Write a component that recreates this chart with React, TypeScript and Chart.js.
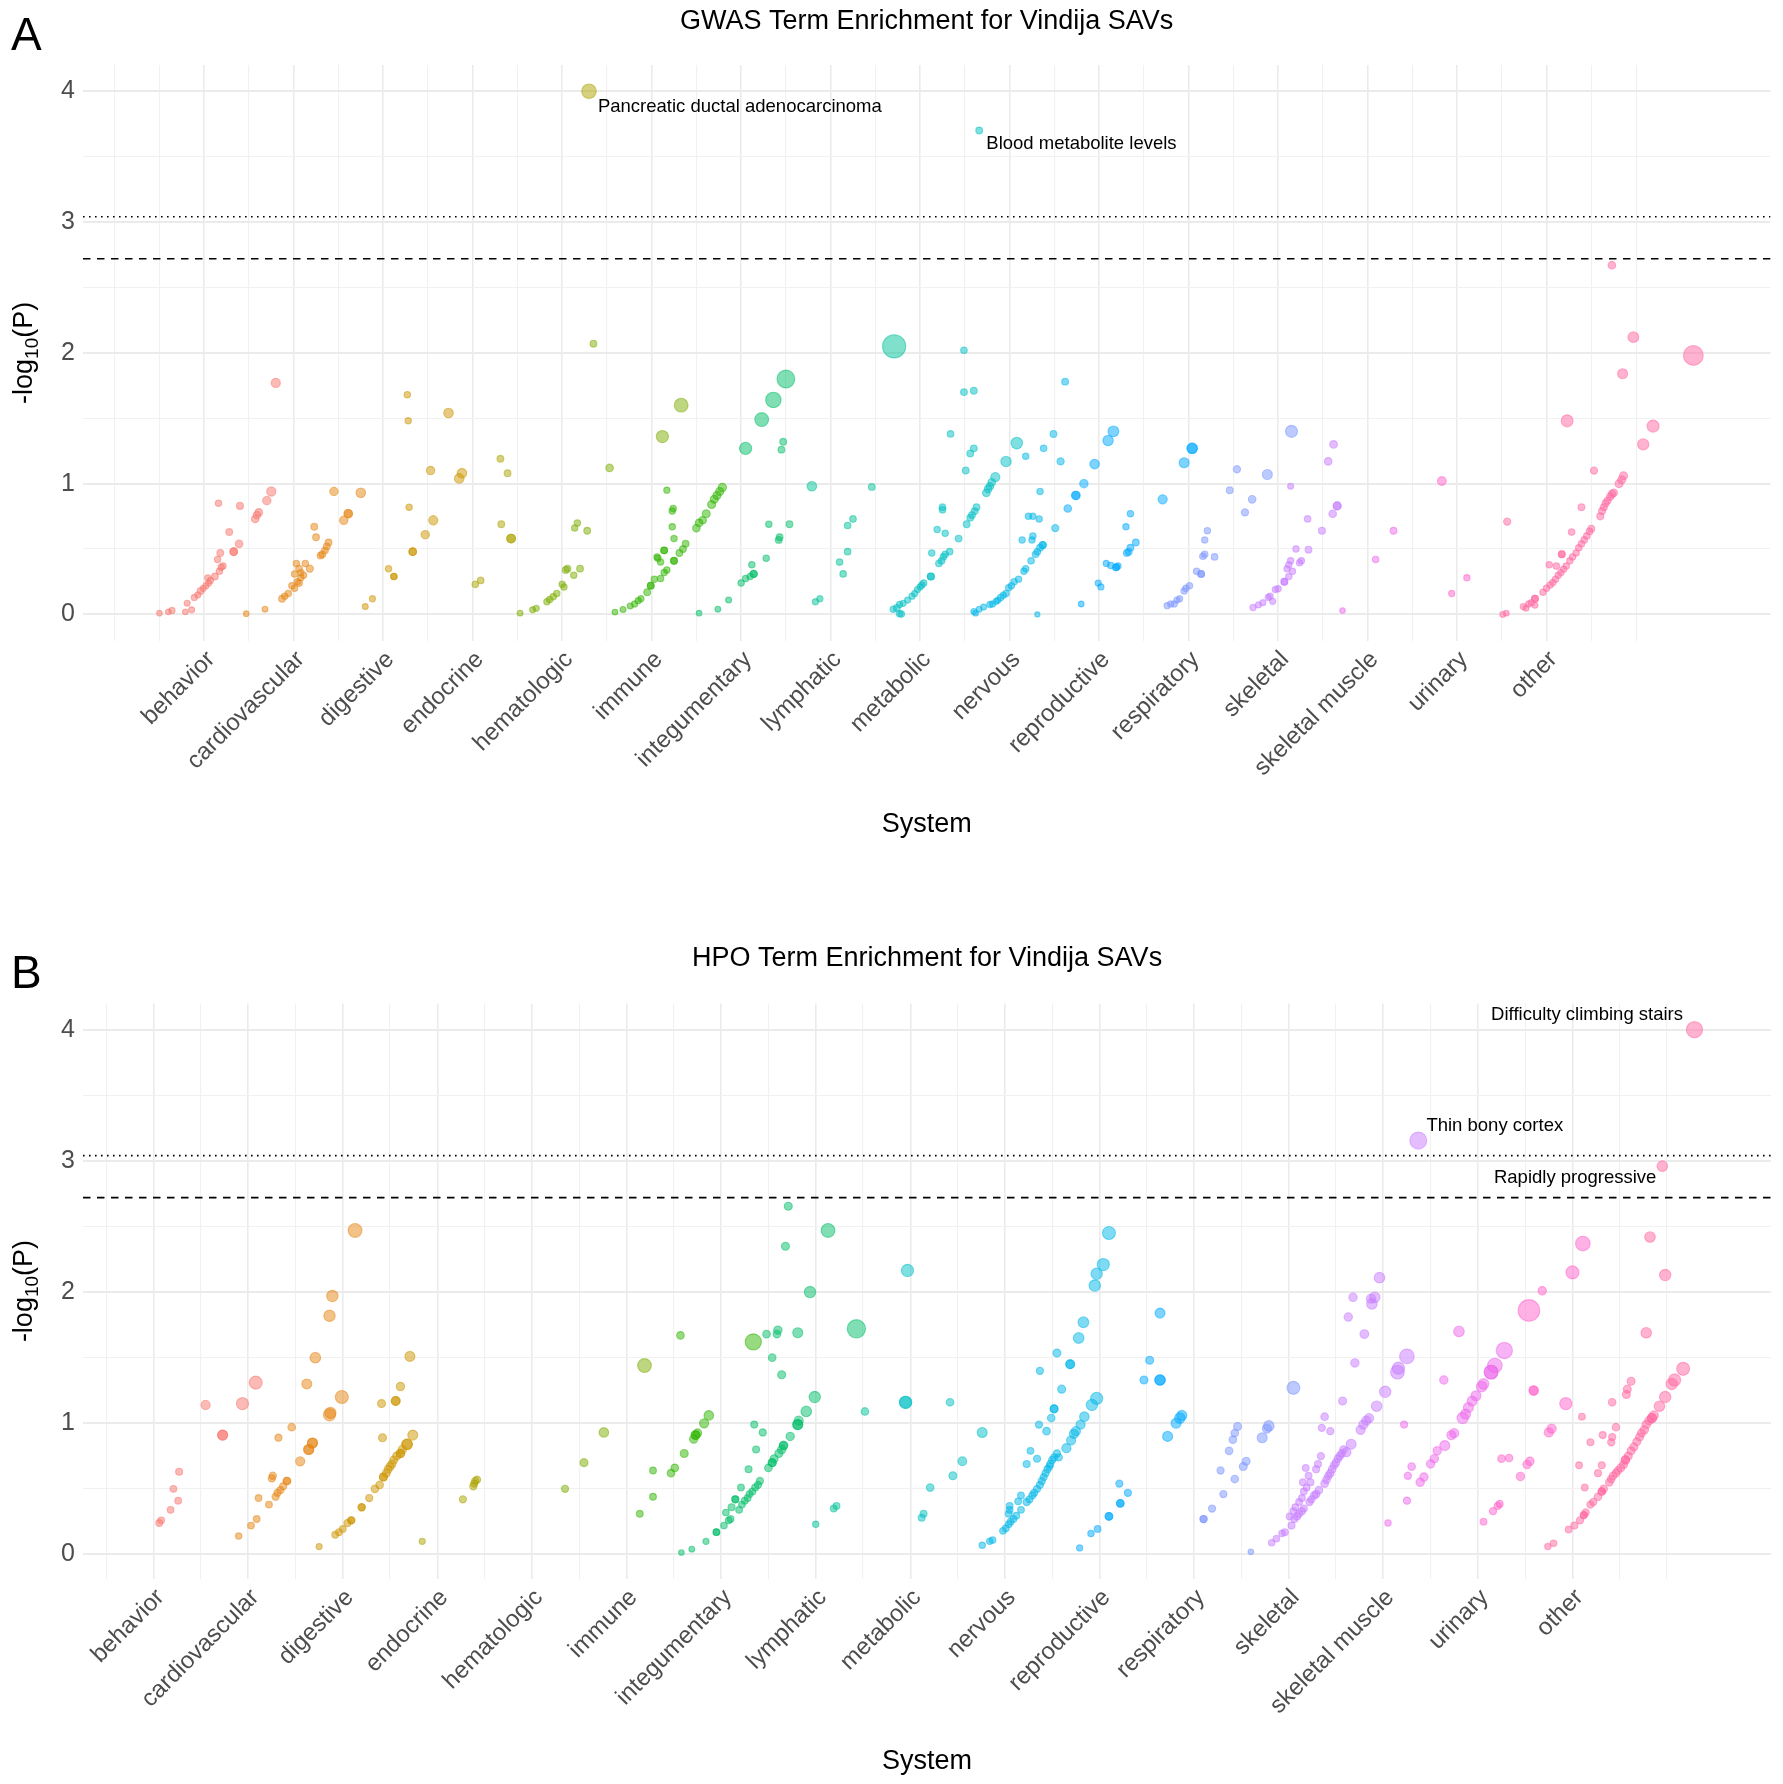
import React, { useEffect, useRef } from "react";
import { Chart, registerables } from "chart.js";

Chart.register(...registerables);

type Pt = [number, number, number]; // [position, -log10(P), term size]

const categories = [
  "behavior", "cardiovascular", "digestive", "endocrine", "hematologic", "immune",
  "integumentary", "lymphatic", "metabolic", "nervous", "reproductive", "respiratory",
  "skeletal", "skeletal muscle", "urinary", "other",
];

const palette = [
  "#F8766D", "#E68613", "#CD9600", "#ABA300", "#7CAE00", "#2FB600", "#00BE67", "#00C19A",
  "#00BFC4", "#00B8E7", "#00A9FF", "#7B96FF", "#C77CFF", "#EE67EB", "#FF61CC", "#FF68A1",
];

// ---------------- Panel A : GWAS ----------------
const gwasBehavior: Pt[] = [
  [0.50, 0.01, 1.2], [0.60, 0.02, 1.3], [0.64, 0.03, 1.5], [0.79, 0.02, 1.3], [0.81, 0.085, 1.4],
  [0.86, 0.035, 1.4], [0.89, 0.13, 1.5], [0.93, 0.15, 1.5], [0.96, 0.18, 1.8], [0.99, 0.20, 1.5],
  [1.02, 0.22, 1.5], [1.05, 0.24, 1.5], [1.07, 0.26, 1.5], [1.04, 0.28, 1.5], [1.12, 0.29, 1.8],
  [1.15, 0.42, 1.6], [1.17, 0.33, 1.6], [1.19, 0.36, 1.6], [1.21, 0.37, 1.6], [1.18, 0.47, 1.8],
  [1.28, 0.63, 1.8], [1.33, 0.48, 2.2], [1.33, 0.48, 2.2], [1.39, 0.54, 2.2], [1.16, 0.85, 1.6],
  [1.40, 0.83, 1.9], [1.57, 0.73, 2.2], [1.59, 0.76, 2.2], [1.61, 0.78, 2.2], [1.70, 0.87, 2.6],
  [1.75, 0.94, 3.0], [1.80, 1.77, 3.0],
];
const gwasCardiovascular: Pt[] = [
  [1.47, 0.006, 1.2], [1.68, 0.04, 1.3], [1.87, 0.12, 1.8], [1.90, 0.14, 1.6], [1.94, 0.16, 1.6],
  [1.98, 0.22, 1.6], [2.01, 0.20, 1.6], [2.04, 0.25, 1.6], [2.06, 0.24, 1.8], [2.08, 0.28, 1.6],
  [2.01, 0.31, 1.6], [2.03, 0.39, 1.6], [2.06, 0.35, 1.8], [2.08, 0.32, 1.6], [2.11, 0.30, 1.6],
  [2.13, 0.39, 1.6], [2.18, 0.35, 2.0], [2.23, 0.67, 1.8], [2.25, 0.59, 1.8], [2.30, 0.45, 1.8],
  [2.32, 0.46, 1.8], [2.35, 0.49, 1.8], [2.37, 0.52, 1.8], [2.39, 0.55, 1.8], [2.45, 0.94, 2.6],
  [2.56, 0.72, 2.6], [2.61, 0.77, 2.6], [2.61, 0.77, 2.6], [2.75, 0.93, 3.2],
];
const gwasDigestive: Pt[] = [
  [2.80, 0.06, 1.4], [2.88, 0.12, 1.5], [3.06, 0.35, 1.6], [3.12, 0.29, 1.6], [3.12, 0.29, 1.6],
  [3.27, 1.68, 1.6], [3.28, 1.48, 1.6], [3.29, 0.82, 1.6], [3.33, 0.48, 2.2], [3.33, 0.48, 2.2],
  [3.47, 0.61, 2.6], [3.53, 1.10, 2.6], [3.56, 0.72, 3.0], [3.73, 1.54, 3.2], [3.85, 1.04, 3.2],
  [3.88, 1.08, 3.2],
];
const gwasEndocrine: Pt[] = [
  [4.03, 0.23, 1.7], [4.09, 0.26, 1.7], [4.31, 1.19, 1.8], [4.39, 1.08, 1.8], [4.32, 0.69, 1.8],
  [4.43, 0.58, 2.8], [4.43, 0.58, 2.8], [5.30, 4.00, 5.7],
];
const gwasHematologic: Pt[] = [
  [4.53, 0.01, 1.3], [4.67, 0.035, 1.4], [4.71, 0.047, 1.5], [4.83, 0.097, 1.6], [4.86, 0.114, 1.6],
  [4.90, 0.135, 1.6], [4.94, 0.16, 1.6], [5.00, 0.23, 1.6], [5.02, 0.21, 1.6], [5.04, 0.34, 1.8],
  [5.06, 0.35, 1.8], [5.13, 0.30, 1.6], [5.20, 0.35, 1.8], [5.14, 0.66, 1.6], [5.17, 0.70, 1.6],
  [5.28, 0.64, 1.8], [5.35, 2.07, 1.8], [5.53, 1.12, 2.2], [6.12, 1.36, 4.5], [6.33, 1.60, 5.3],
];
const gwasImmune: Pt[] = [
  [5.59, 0.018, 1.3], [5.68, 0.038, 1.4], [5.76, 0.064, 1.4], [5.81, 0.08, 1.5], [5.85, 0.105, 1.5],
  [5.88, 0.12, 1.5], [5.95, 0.17, 1.8], [5.99, 0.22, 1.8], [5.99, 0.22, 1.8], [6.03, 0.27, 1.6],
  [6.06, 0.44, 1.6], [6.10, 0.275, 1.6], [6.14, 0.32, 1.6], [6.17, 0.34, 1.6], [6.07, 0.43, 1.6],
  [6.10, 0.40, 1.6], [6.14, 0.49, 1.8], [6.14, 0.49, 1.8], [6.25, 0.41, 1.8], [6.25, 0.41, 1.8],
  [6.25, 0.58, 1.6], [6.23, 0.67, 1.6], [6.23, 0.79, 1.6], [6.24, 0.81, 1.6], [6.17, 0.95, 1.5],
  [6.31, 0.47, 1.8], [6.35, 0.50, 1.8], [6.38, 0.54, 1.8], [6.50, 0.66, 2.2], [6.53, 0.70, 2.2],
  [6.57, 0.72, 2.2], [6.61, 0.77, 2.4], [6.67, 0.84, 2.4], [6.70, 0.88, 2.4], [6.73, 0.91, 2.4],
  [6.76, 0.94, 2.4], [6.79, 0.97, 2.6],
];
const gwasIntegumentary: Pt[] = [
  [6.53, 0.01, 1.2], [6.74, 0.04, 1.3], [6.86, 0.11, 1.4], [7.00, 0.24, 1.6], [7.05, 0.275, 1.6],
  [7.10, 0.29, 1.6], [7.14, 0.31, 2.0], [7.14, 0.31, 2.0], [7.12, 0.38, 1.6], [7.28, 0.43, 1.6],
  [7.42, 0.57, 1.8], [7.43, 0.59, 1.8], [7.31, 0.69, 1.6], [7.54, 0.69, 1.8], [7.45, 1.26, 1.8],
  [7.47, 1.32, 1.8], [7.05, 1.27, 4.5], [7.23, 1.49, 5.3], [7.36, 1.64, 6.1], [7.50, 1.80, 7.3],
];
const gwasLymphatic: Pt[] = [
  [7.79, 0.98, 3.2], [7.83, 0.097, 1.5], [7.88, 0.12, 1.5], [8.10, 0.40, 1.7], [8.14, 0.31, 1.7],
  [8.19, 0.48, 1.7], [8.19, 0.68, 1.7], [8.25, 0.73, 1.7], [8.46, 0.975, 1.8], [8.71, 2.05, 10],
];
const gwasMetabolic: Pt[] = [
  [8.70, 0.04, 1.6], [8.74, 0.05, 1.8], [8.77, 0.006, 1.6], [8.79, 0.003, 1.6], [8.77, 0.076, 1.5],
  [8.81, 0.085, 1.5], [8.86, 0.11, 1.5], [8.91, 0.14, 1.5], [8.94, 0.16, 1.5], [8.97, 0.19, 1.5],
  [9.00, 0.21, 1.5], [9.02, 0.225, 1.6], [9.04, 0.24, 1.6], [9.12, 0.29, 1.9], [9.12, 0.29, 1.9],
  [9.13, 0.47, 1.6], [9.21, 0.39, 1.7], [9.24, 0.41, 1.7], [9.26, 0.44, 1.7], [9.28, 0.46, 1.7],
  [9.33, 0.48, 1.7], [9.19, 0.65, 1.6], [9.25, 0.82, 1.7], [9.25, 0.80, 1.7], [9.28, 0.62, 1.6],
  [9.34, 1.38, 1.7], [9.43, 0.58, 1.8], [9.49, 2.02, 1.7], [9.49, 1.70, 1.8], [9.60, 1.71, 1.8],
  [9.51, 1.10, 1.8], [9.56, 1.23, 1.8], [9.60, 1.27, 1.8], [9.52, 0.69, 1.8], [9.56, 0.74, 1.8],
  [9.58, 0.76, 1.8], [9.61, 0.79, 1.8], [9.63, 0.82, 1.8], [9.74, 0.93, 2.2], [9.76, 0.96, 2.2],
  [9.78, 0.98, 2.2], [9.80, 1.01, 2.2], [9.84, 1.05, 3.0], [9.96, 1.17, 3.6], [10.08, 1.31, 4.2],
  [9.66, 3.70, 1.8],
];
const gwasNervous: Pt[] = [
  [9.60, 0.023, 1.4], [9.62, 0.01, 1.3], [9.66, 0.04, 1.4], [9.71, 0.056, 1.4], [9.78, 0.076, 1.5],
  [9.81, 0.08, 1.5], [9.85, 0.10, 1.5], [9.87, 0.11, 1.5], [9.90, 0.13, 1.6], [9.93, 0.146, 1.6],
  [9.96, 0.16, 1.6], [9.99, 0.205, 1.6], [10.02, 0.22, 1.6], [10.05, 0.25, 1.6], [10.10, 0.27, 1.6],
  [10.16, 0.33, 1.6], [10.18, 0.35, 1.6], [10.24, 0.41, 1.7], [10.29, 0.46, 1.7], [10.31, 0.48, 1.7],
  [10.34, 0.51, 1.8], [10.37, 0.53, 2.0], [10.37, 0.53, 2.0], [10.14, 0.57, 1.6], [10.25, 0.57, 1.6],
  [10.26, 0.60, 1.6], [10.21, 0.75, 1.6], [10.26, 0.75, 1.6], [10.33, 0.73, 1.6], [10.34, 0.94, 1.6],
  [10.18, 1.21, 1.6], [10.38, 1.27, 1.7], [10.49, 1.38, 1.8], [10.31, 0.0, 1.0], [10.51, 0.66, 2.0],
  [10.57, 1.17, 2.0], [10.62, 1.78, 1.8],
];
const gwasReproductive: Pt[] = [
  [10.65, 0.81, 2.2], [10.74, 0.91, 2.6], [10.74, 0.91, 2.6], [10.83, 1.00, 2.6], [10.95, 1.15, 3.2],
  [11.10, 1.33, 3.6], [11.16, 1.40, 3.8], [10.80, 0.08, 1.3], [10.99, 0.24, 1.5], [11.02, 0.21, 1.5],
  [11.08, 0.39, 1.5], [11.13, 0.375, 1.6], [11.19, 0.36, 1.8], [11.19, 0.36, 1.8], [11.21, 0.37, 1.6],
  [11.31, 0.47, 1.8], [11.33, 0.48, 1.8], [11.35, 0.51, 1.8], [11.41, 0.55, 1.8], [11.30, 0.67, 1.6],
  [11.35, 0.77, 1.6], [11.71, 0.88, 3.0], [11.95, 1.16, 3.4], [12.04, 1.27, 3.6], [12.04, 1.27, 3.6],
];
const gwasRespiratory: Pt[] = [
  [11.76, 0.067, 1.5], [11.80, 0.08, 1.5], [11.84, 0.08, 1.5], [11.87, 0.11, 1.5], [11.90, 0.12, 1.5],
  [11.95, 0.18, 1.6], [11.97, 0.20, 1.6], [12.01, 0.22, 1.6], [12.09, 0.33, 1.7], [12.14, 0.31, 1.8],
  [12.14, 0.31, 1.8], [12.16, 0.445, 1.7], [12.18, 0.46, 1.7], [12.29, 0.44, 1.7], [12.18, 0.57, 1.6],
  [12.21, 0.64, 1.6], [12.46, 0.95, 1.8], [12.54, 1.11, 2.0], [12.63, 0.78, 2.0], [12.71, 0.88, 2.2],
  [12.88, 1.07, 3.4], [13.15, 1.40, 4.4],
];
const gwasSkeletal: Pt[] = [
  [12.72, 0.053, 1.5], [12.78, 0.073, 1.4], [12.83, 0.09, 1.4], [12.89, 0.13, 1.5], [12.91, 0.14, 1.6],
  [12.94, 0.10, 1.5], [12.97, 0.19, 1.6], [13.00, 0.196, 1.6], [13.07, 0.25, 1.8], [13.07, 0.25, 1.8],
  [13.12, 0.29, 1.6], [13.16, 0.33, 1.6], [13.10, 0.35, 1.6], [13.12, 0.38, 1.6], [13.14, 0.41, 1.6],
  [13.24, 0.395, 1.6], [13.26, 0.41, 1.6], [13.20, 0.50, 1.6], [13.34, 0.495, 1.8], [13.14, 0.98, 1.4],
  [13.33, 0.73, 1.7], [13.49, 0.64, 1.9], [13.56, 1.17, 2.2], [13.62, 1.30, 2.2], [13.61, 0.77, 2.2],
  [13.66, 0.83, 2.4], [13.66, 0.83, 2.4],
];
const gwasSkeletalMuscle: Pt[] = [
  [13.72, 0.03, 1.2], [14.09, 0.42, 1.6], [14.29, 0.64, 1.8],
];
const gwasUrinary: Pt[] = [
  [14.83, 1.02, 2.8], [14.94, 0.16, 1.5], [15.11, 0.28, 1.6],
];
const gwasOther: Pt[] = [
  [15.56, 0.71, 2.0], [15.51, 0.0, 1.3], [15.55, 0.01, 1.3], [15.74, 0.06, 1.5], [15.77, 0.047, 1.4],
  [15.80, 0.08, 1.5], [15.83, 0.09, 1.5], [15.87, 0.12, 1.8], [15.87, 0.12, 1.8], [15.87, 0.07, 1.4],
  [15.96, 0.17, 1.6], [16.00, 0.20, 1.6], [16.04, 0.225, 1.6], [16.07, 0.245, 1.6], [16.10, 0.27, 1.6],
  [16.13, 0.30, 1.6], [16.16, 0.32, 1.6], [16.19, 0.345, 1.6], [16.22, 0.37, 1.6], [16.26, 0.41, 1.6],
  [16.29, 0.44, 1.6], [16.33, 0.47, 1.6], [16.36, 0.51, 1.7], [16.39, 0.54, 1.7], [16.42, 0.57, 1.7],
  [16.45, 0.60, 1.7], [16.48, 0.635, 1.8], [16.50, 0.656, 1.8], [16.03, 0.38, 1.6], [16.11, 0.37, 1.7],
  [16.17, 0.46, 1.8], [16.17, 0.46, 1.8], [16.28, 0.63, 1.7], [16.39, 0.82, 1.8], [16.60, 0.75, 1.9],
  [16.62, 0.79, 1.9], [16.64, 0.82, 1.9], [16.66, 0.85, 2.0], [16.68, 0.87, 2.0], [16.71, 0.90, 2.0],
  [16.73, 0.92, 2.2], [16.75, 0.93, 2.2], [16.81, 1.00, 2.4], [16.84, 1.03, 2.4], [16.86, 1.06, 2.4],
  [16.53, 1.10, 2.0], [16.23, 1.48, 4.4], [16.73, 2.67, 2.2], [16.97, 2.12, 3.8], [16.85, 1.84, 3.4],
  [17.19, 1.44, 4.4], [17.08, 1.30, 4.0], [17.64, 1.98, 8.3],
];

// ---------------- Panel B : HPO ----------------
const hpoBehavior: Pt[] = [
  [1.06, 0.24, 1.8], [1.08, 0.26, 1.8], [1.18, 0.34, 1.8], [1.21, 0.50, 1.8], [1.26, 0.41, 1.8],
  [1.27, 0.63, 1.9], [1.55, 1.14, 3.0], [1.73, 0.91, 3.4], [1.73, 0.91, 3.4], [1.94, 1.15, 4.5],
  [2.08, 1.31, 4.9],
];
const hpoCardiovascular: Pt[] = [
  [1.90, 0.14, 1.6], [2.03, 0.22, 1.8], [2.09, 0.27, 1.8], [2.11, 0.43, 1.8], [2.22, 0.38, 1.8],
  [2.25, 0.58, 2.0], [2.26, 0.60, 2.0], [2.29, 0.44, 2.0], [2.31, 0.47, 2.0], [2.34, 0.49, 2.0],
  [2.37, 0.52, 2.0], [2.41, 0.56, 2.2], [2.41, 0.56, 2.2], [2.32, 0.89, 2.0], [2.46, 0.97, 2.2],
  [2.55, 0.71, 3.0], [2.64, 0.80, 3.4], [2.64, 0.80, 3.4], [2.68, 0.85, 3.4], [2.68, 0.85, 3.4],
  [2.62, 1.30, 3.4], [2.71, 1.50, 3.7], [2.86, 1.065, 4.5], [2.87, 1.08, 4.0], [2.86, 1.82, 4.1],
  [2.89, 1.97, 4.1], [2.99, 1.20, 4.9], [3.13, 2.47, 5.3],
];
const hpoDigestive: Pt[] = [
  [2.75, 0.06, 1.5], [2.92, 0.15, 1.8], [2.96, 0.17, 1.8], [3.00, 0.195, 1.8], [3.05, 0.24, 2.0],
  [3.09, 0.26, 2.0], [3.09, 0.26, 2.0], [3.20, 0.36, 2.0], [3.20, 0.36, 2.0], [3.28, 0.43, 2.0],
  [3.34, 0.50, 2.2], [3.39, 0.53, 2.2], [3.43, 0.59, 2.4], [3.43, 0.59, 2.4], [3.46, 0.62, 2.4],
  [3.48, 0.65, 2.4], [3.50, 0.67, 2.4], [3.52, 0.69, 2.4], [3.54, 0.72, 2.4], [3.57, 0.75, 2.4],
  [3.61, 0.77, 2.6], [3.61, 0.77, 2.6], [3.63, 0.80, 2.6], [3.68, 0.84, 3.7], [3.68, 0.84, 3.7],
  [3.74, 0.91, 3.4], [3.42, 0.89, 2.4], [3.41, 1.15, 2.4], [3.56, 1.17, 2.8], [3.56, 1.17, 2.8],
  [3.61, 1.28, 2.6], [3.71, 1.51, 3.4],
];
const hpoEndocrine: Pt[] = [
  [3.84, 0.10, 1.5], [4.27, 0.42, 2.0], [4.38, 0.52, 2.0], [4.39, 0.54, 2.0], [4.40, 0.56, 2.0],
  [4.42, 0.57, 2.0],
];
const hpoHematologic: Pt[] = [
  [5.35, 0.50, 2.0], [5.55, 0.70, 2.4], [5.76, 0.93, 3.2], [6.19, 1.44, 5.3],
];
const hpoImmune: Pt[] = [
  [6.14, 0.31, 1.8], [6.28, 0.44, 1.8], [6.28, 0.64, 1.8], [6.47, 0.62, 2.2], [6.51, 0.66, 2.2],
  [6.57, 1.67, 2.2], [6.61, 0.77, 2.4], [6.71, 0.88, 2.6], [6.73, 0.91, 2.8], [6.73, 0.91, 2.8],
  [6.75, 0.925, 2.6], [6.82, 1.00, 3.0], [6.87, 1.06, 3.2], [7.34, 1.62, 6.5],
];
const hpoIntegumentary: Pt[] = [
  [6.58, 0.015, 1.2], [6.69, 0.04, 1.3], [6.84, 0.10, 1.5], [6.95, 0.17, 1.7], [6.95, 0.17, 1.7],
  [7.03, 0.22, 1.7], [7.08, 0.26, 1.8], [7.10, 0.27, 1.8], [7.05, 0.32, 1.7], [7.11, 0.36, 1.9],
  [7.15, 0.42, 1.9], [7.15, 0.42, 1.9], [7.19, 0.34, 1.8], [7.22, 0.38, 1.8], [7.25, 0.41, 1.8],
  [7.28, 0.43, 1.8], [7.30, 0.46, 1.8], [7.33, 0.48, 1.9], [7.36, 0.51, 1.9], [7.39, 0.53, 2.0],
  [7.41, 0.56, 2.0], [7.21, 0.51, 1.8], [7.29, 0.65, 1.9], [7.37, 0.80, 1.9], [7.35, 0.99, 1.9],
  [7.44, 0.93, 2.0], [7.50, 0.66, 2.2], [7.54, 0.70, 2.4], [7.54, 0.70, 2.4], [7.56, 0.73, 2.4],
  [7.61, 0.77, 2.4], [7.64, 0.80, 2.6], [7.66, 0.83, 2.6], [7.66, 0.83, 2.6], [7.73, 0.90, 2.6],
  [7.81, 0.99, 3.4], [7.81, 0.99, 3.4], [7.82, 1.02, 3.0], [7.90, 1.09, 3.7], [7.99, 1.20, 4.1],
  [7.48, 1.68, 2.2], [7.59, 1.68, 2.2], [7.60, 1.71, 2.6], [7.54, 1.50, 2.2], [7.64, 1.37, 2.4],
  [7.81, 1.69, 3.4], [7.68, 2.35, 2.4], [7.71, 2.655, 2.4], [7.94, 2.00, 4.1], [8.13, 2.47, 5.3],
  [8.43, 1.72, 7.6],
];
const hpoLymphatic: Pt[] = [
  [8.00, 0.23, 1.6], [8.19, 0.35, 1.8], [8.22, 0.37, 1.8], [8.52, 1.09, 2.2],
];
const hpoMetabolic: Pt[] = [
  [8.95, 1.16, 4.5], [8.95, 1.16, 4.5], [8.97, 2.165, 4.5], [9.12, 0.28, 1.9], [9.14, 0.31, 1.9],
  [9.21, 0.51, 2.2], [9.42, 1.16, 2.2], [9.45, 0.60, 2.4], [9.55, 0.71, 2.8], [9.76, 0.93, 3.4],
];
const hpoNervous: Pt[] = [
  [9.76, 0.07, 1.6], [9.84, 0.10, 1.6], [9.87, 0.11, 1.7], [9.98, 0.18, 1.8], [10.01, 0.20, 1.8],
  [10.04, 0.23, 1.8], [10.06, 0.25, 1.8], [10.09, 0.27, 1.8], [10.12, 0.295, 1.8], [10.04, 0.31, 1.8],
  [10.05, 0.34, 1.8], [10.05, 0.37, 1.8], [10.14, 0.405, 1.8], [10.17, 0.45, 1.8], [10.17, 0.34, 1.8],
  [10.23, 0.40, 2.0], [10.26, 0.42, 2.0], [10.29, 0.45, 2.0], [10.31, 0.47, 2.0], [10.34, 0.50, 2.0],
  [10.37, 0.53, 2.0], [10.39, 0.56, 2.0], [10.41, 0.59, 2.0], [10.43, 0.62, 2.0], [10.45, 0.65, 2.0],
  [10.47, 0.67, 2.0], [10.48, 0.69, 2.0], [10.50, 0.72, 2.0], [10.52, 0.74, 2.0], [10.55, 0.77, 2.0],
  [10.57, 0.74, 2.0], [10.23, 0.69, 1.9], [10.34, 0.73, 1.9], [10.27, 0.79, 1.8], [10.37, 1.40, 2.0],
  [10.36, 0.99, 2.0], [10.44, 0.94, 2.2], [10.49, 1.04, 2.2], [10.52, 1.11, 2.4], [10.52, 1.11, 2.4],
  [10.60, 1.26, 2.4], [10.55, 1.535, 2.4], [10.69, 1.45, 2.8], [10.69, 1.45, 2.8], [10.65, 0.81, 3.0],
  [10.70, 0.87, 3.0], [10.73, 0.92, 3.0], [10.75, 0.94, 3.0], [10.80, 0.99, 3.0], [10.84, 1.05, 3.2],
  [10.92, 1.14, 4.1], [10.97, 1.19, 4.5], [10.78, 1.65, 3.75], [10.83, 1.77, 3.75], [10.95, 2.05, 4.1],
  [10.97, 2.14, 4.1], [11.04, 2.21, 4.5], [11.10, 2.45, 4.9],
];
const hpoReproductive: Pt[] = [
  [10.79, 0.05, 1.5], [10.91, 0.16, 1.6], [10.98, 0.195, 1.8], [11.10, 0.29, 2.2], [11.10, 0.29, 2.2],
  [11.22, 0.39, 2.2], [11.22, 0.39, 2.2], [11.21, 0.54, 2.0], [11.30, 0.47, 2.0], [11.47, 1.33, 2.4],
  [11.53, 1.48, 2.4], [11.64, 1.33, 3.6], [11.64, 1.33, 3.6], [11.64, 1.84, 3.4], [11.72, 0.90, 3.4],
  [11.81, 1.00, 3.4], [11.85, 1.04, 3.7], [11.87, 1.06, 3.4],
];
const hpoRespiratory: Pt[] = [
  [12.10, 0.27, 2.0], [12.10, 0.27, 2.0], [12.19, 0.35, 2.0], [12.31, 0.46, 2.0], [12.43, 0.575, 2.2],
  [12.28, 0.64, 2.0], [12.37, 0.79, 2.2], [12.41, 0.875, 2.2], [12.43, 0.925, 2.2], [12.46, 0.975, 2.4],
  [12.52, 0.67, 2.4], [12.55, 0.71, 2.4], [12.72, 0.89, 3.4], [12.77, 0.96, 3.0], [12.79, 0.98, 3.7],
  [12.60, 0.02, 1.2], [13.05, 1.27, 4.9],
];
const hpoSkeletal: Pt[] = [
  [12.82, 0.09, 1.6], [12.87, 0.12, 1.7], [12.93, 0.16, 1.7], [12.96, 0.17, 1.8], [13.03, 0.22, 1.9],
  [13.01, 0.29, 1.8], [13.06, 0.27, 1.9], [13.09, 0.29, 1.9], [13.11, 0.31, 1.9], [13.14, 0.33, 1.9],
  [13.16, 0.35, 1.9], [13.05, 0.33, 1.8], [13.07, 0.36, 1.8], [13.11, 0.40, 1.8], [13.14, 0.43, 1.8],
  [13.16, 0.48, 1.8], [13.19, 0.51, 1.8], [13.15, 0.55, 1.8], [13.21, 0.60, 1.8], [13.18, 0.66, 1.8],
  [13.22, 0.40, 2.0], [13.24, 0.42, 2.0], [13.27, 0.45, 2.2], [13.29, 0.46, 2.2], [13.32, 0.49, 2.2],
  [13.23, 0.55, 1.9], [13.29, 0.65, 1.9], [13.31, 0.69, 1.9], [13.34, 0.75, 2.0], [13.38, 0.54, 2.2],
  [13.40, 0.57, 2.2], [13.42, 0.60, 2.2], [13.44, 0.62, 2.2], [13.46, 0.65, 2.2], [13.48, 0.68, 2.2],
  [13.50, 0.70, 2.2], [13.52, 0.73, 2.2], [13.54, 0.75, 2.2], [13.56, 0.77, 2.2], [13.58, 0.80, 2.2],
  [13.61, 0.78, 3.0], [13.66, 0.84, 3.4], [13.35, 0.965, 2.0], [13.38, 1.05, 2.2], [13.44, 0.94, 2.0],
  [13.57, 1.17, 2.4], [13.76, 0.95, 3.0], [13.79, 0.99, 3.0], [13.82, 1.02, 3.0], [13.85, 1.04, 3.0],
  [13.93, 1.13, 3.7], [14.02, 1.24, 4.1], [14.15, 1.39, 5.3], [14.16, 1.42, 4.5], [14.25, 1.51, 5.7],
  [13.70, 1.46, 2.6], [13.80, 1.68, 2.8], [13.63, 1.81, 2.6], [13.68, 1.96, 2.6], [13.88, 1.91, 3.7],
  [13.91, 1.96, 3.7], [13.87, 1.95, 3.0], [13.96, 2.11, 3.7], [14.37, 3.155, 6.9],
];
const hpoSkeletalMuscle: Pt[] = [
  [14.05, 0.24, 1.6], [14.25, 0.41, 2.0], [14.26, 0.60, 2.0], [14.30, 0.67, 2.2], [14.22, 0.99, 1.9],
  [14.39, 0.55, 2.6], [14.43, 0.59, 2.6], [14.50, 0.69, 2.6], [14.54, 0.73, 2.6], [14.57, 0.79, 2.6],
  [14.65, 0.83, 3.4], [14.72, 0.91, 3.0], [14.75, 0.925, 3.0], [14.84, 1.04, 4.1], [14.87, 1.07, 3.4],
  [14.90, 1.12, 3.4], [14.94, 1.17, 3.4], [14.98, 1.21, 3.4], [15.04, 1.28, 3.7], [15.06, 1.30, 3.7],
  [15.14, 1.39, 5.3], [15.14, 1.39, 5.3], [15.18, 1.44, 5.7], [15.28, 1.555, 6.5], [14.64, 1.33, 2.6],
  [14.80, 1.70, 3.7],
];
const hpoUrinary: Pt[] = [
  [15.06, 0.25, 1.8], [15.16, 0.33, 2.0], [15.21, 0.37, 2.0], [15.23, 0.385, 2.0], [15.25, 0.73, 2.2],
  [15.33, 0.735, 2.2], [15.45, 0.595, 2.6], [15.52, 0.685, 2.6], [15.55, 0.71, 2.6], [15.75, 0.93, 3.0],
  [15.78, 0.96, 3.0], [15.59, 1.25, 3.0], [15.59, 1.25, 3.0], [15.93, 1.15, 4.5], [15.68, 2.01, 2.6],
  [15.54, 1.86, 9.2], [16.00, 2.15, 4.9], [16.11, 2.37, 5.7],
];
const hpoOther: Pt[] = [
  [15.74, 0.06, 1.6], [15.80, 0.085, 1.7], [15.96, 0.19, 1.8], [16.02, 0.22, 1.9], [16.08, 0.26, 2.0],
  [16.12, 0.30, 2.0], [16.12, 0.30, 2.0], [16.14, 0.32, 2.0], [16.19, 0.38, 2.0], [16.22, 0.40, 2.0],
  [16.27, 0.44, 2.2], [16.31, 0.48, 2.2], [16.31, 0.48, 2.2], [16.33, 0.50, 2.2], [16.13, 0.51, 1.8],
  [16.07, 0.68, 1.8], [16.10, 1.05, 1.8], [16.27, 0.62, 1.9], [16.31, 0.68, 1.9], [16.19, 0.855, 1.9],
  [16.32, 0.91, 1.9], [16.42, 0.895, 2.0], [16.41, 0.855, 2.0], [16.46, 0.97, 2.2], [16.42, 1.16, 2.2],
  [16.39, 0.55, 2.2], [16.41, 0.575, 2.2], [16.43, 0.60, 2.2], [16.46, 0.62, 2.2], [16.48, 0.64, 2.2],
  [16.51, 0.66, 2.4], [16.54, 0.685, 2.4], [16.56, 0.72, 2.6], [16.56, 0.72, 2.6], [16.59, 0.75, 2.4],
  [16.62, 0.79, 2.4], [16.65, 0.82, 2.4], [16.68, 0.86, 2.4], [16.71, 0.895, 2.4], [16.73, 0.925, 2.4],
  [16.76, 0.95, 2.6], [16.78, 0.99, 2.6], [16.81, 1.02, 2.6], [16.84, 1.04, 3.0], [16.84, 1.04, 3.0],
  [16.86, 1.06, 3.0], [16.92, 1.13, 3.7], [16.98, 1.20, 4.1], [17.05, 1.30, 4.1], [17.08, 1.33, 4.5],
  [17.17, 1.415, 4.9], [16.57, 1.22, 2.4], [16.58, 1.26, 2.4], [16.62, 1.32, 2.4], [16.78, 1.69, 3.7],
  [16.98, 2.13, 4.1], [16.82, 2.42, 3.7], [16.95, 2.96, 3.7], [17.29, 4.00, 6.5],
];

const gwasSeries: Pt[][] = [
  gwasBehavior, gwasCardiovascular, gwasDigestive, gwasEndocrine, gwasHematologic, gwasImmune,
  gwasIntegumentary, gwasLymphatic, gwasMetabolic, gwasNervous, gwasReproductive, gwasRespiratory,
  gwasSkeletal, gwasSkeletalMuscle, gwasUrinary, gwasOther,
];
const hpoSeries: Pt[][] = [
  hpoBehavior, hpoCardiovascular, hpoDigestive, hpoEndocrine, hpoHematologic, hpoImmune,
  hpoIntegumentary, hpoLymphatic, hpoMetabolic, hpoNervous, hpoReproductive, hpoRespiratory,
  hpoSkeletal, hpoSkeletalMuscle, hpoUrinary, hpoOther,
];

const significanceLine = 3.04; // dotted
const suggestiveLine = 2.72; // dashed

interface Note { text: string; x: number; y: number; }
const gwasNotes: Note[] = [
  { text: "Pancreatic ductal adenocarcinoma", x: 5.40, y: 3.88 },
  { text: "Blood metabolite levels", x: 9.74, y: 3.60 },
];
const hpoNotes: Note[] = [
  { text: "Difficulty climbing stairs", x: 15.14, y: 4.11 },
  { text: "Thin bony cortex", x: 14.456, y: 3.27 },
  { text: "Rapidly progressive", x: 15.17, y: 2.87 },
];

// ---------------- rendering ----------------
const W = 1783;
const H = 892;
const FONT = "'Liberation Sans', Arial, Helvetica, sans-serif";

function rgba(hex: string, a: number) {
  const n = parseInt(hex.slice(1), 16);
  return `rgba(${(n >> 16) & 255},${(n >> 8) & 255},${n & 255},${a})`;
}
function radiusOf(s: number) {
  return 2.6 + 1.0 * (s - 1);
}

interface PanelCfg {
  letter: string;
  title: string;
  series: Pt[][];
  notes: Note[];
  xMin: number; xMax: number; yMin: number; yMax: number;
  gridFrom: number;
  areaTop: number; areaBottom: number;
  titleBase: number; letterBase: number; sysMid: number;
}

const panelA: PanelCfg = {
  letter: "A", title: "GWAS Term Enrichment for Vindija SAVs", series: gwasSeries, notes: gwasNotes,
  xMin: -0.354, xMax: 18.5, yMin: -0.2, yMax: 4.2, gridFrom: 0,
  areaTop: 65.1, areaBottom: 640.6, titleBase: 29, letterBase: 50, sysMid: 825,
};
const panelB: PanelCfg = {
  letter: "B", title: "HPO Term Enrichment for Vindija SAVs", series: hpoSeries, notes: hpoNotes,
  xMin: 0.254, xMax: 18.1, yMin: -0.184, yMax: 4.2, gridFrom: 0.5,
  areaTop: 111.5, areaBottom: 686.6, titleBase: 74, letterBase: 96, sysMid: 870,
};

function decorPlugin(cfg: PanelCfg) {
  return {
    id: "decor" + cfg.letter,
    afterDatasetsDraw(chart: any) {
      const { ctx, chartArea, scales } = chart;
      ctx.save();
      ctx.strokeStyle = "#000";
      ctx.lineWidth = 1.6;
      const yDot = scales.y.getPixelForValue(significanceLine);
      ctx.setLineDash([1.6, 4.4]);
      ctx.beginPath();
      ctx.moveTo(chartArea.left, yDot);
      ctx.lineTo(chartArea.right, yDot);
      ctx.stroke();
      const yDash = scales.y.getPixelForValue(suggestiveLine);
      ctx.setLineDash([7.5, 6.5]);
      ctx.beginPath();
      ctx.moveTo(chartArea.left, yDash);
      ctx.lineTo(chartArea.right, yDash);
      ctx.stroke();
      ctx.restore();
    },
    afterDraw(chart: any) {
      const { ctx, chartArea, scales } = chart;
      ctx.save();
      ctx.fillStyle = "#000";
      ctx.font = `18.5px ${FONT}`;
      ctx.textAlign = "left";
      ctx.textBaseline = "middle";
      cfg.notes.forEach((n) => {
        ctx.fillText(n.text, scales.x.getPixelForValue(n.x), scales.y.getPixelForValue(n.y));
      });
      const cx = (chartArea.left + chartArea.right) / 2;
      ctx.font = `27px ${FONT}`;
      ctx.textAlign = "center";
      ctx.textBaseline = "alphabetic";
      ctx.fillText(cfg.title, cx, cfg.titleBase);
      ctx.font = `46px ${FONT}`;
      ctx.textAlign = "left";
      ctx.fillText(cfg.letter, 11, cfg.letterBase);
      ctx.font = `27px ${FONT}`;
      ctx.textAlign = "center";
      ctx.textBaseline = "middle";
      ctx.fillText("System", cx, cfg.sysMid);
      const cy = (chartArea.top + chartArea.bottom) / 2;
      ctx.translate(32, cy);
      ctx.rotate(-Math.PI / 2);
      ctx.textBaseline = "alphabetic";
      ctx.textAlign = "left";
      const big = `27px ${FONT}`;
      const small = `19px ${FONT}`;
      ctx.font = big;
      const w1 = ctx.measureText("-log").width;
      const w3 = ctx.measureText("(P)").width;
      ctx.font = small;
      const w2 = ctx.measureText("10").width;
      let x0 = -(w1 + w2 + w3) / 2;
      ctx.font = big;
      ctx.fillText("-log", x0, 0);
      x0 += w1;
      ctx.font = small;
      ctx.fillText("10", x0, 6);
      x0 += w2;
      ctx.font = big;
      ctx.fillText("(P)", x0, 0);
      ctx.restore();
    },
  };
}

function Panel({ cfg, top }: { cfg: PanelCfg; top: number }) {
  const ref = useRef<HTMLCanvasElement>(null);
  useEffect(() => {
    const canvas = ref.current;
    if (!canvas) return;
    const xTicks: number[] = [];
    for (let v = cfg.gridFrom; v <= 17.0001; v += 0.5) xTicks.push(v);
    const yTicks: number[] = [];
    for (let v = 0; v <= 4.0001; v += 0.5) yTicks.push(v);
    const isCat = (v: number) => Number.isInteger(v) && v >= 1 && v <= categories.length;

    const chart = new Chart(canvas, {
      type: "scatter",
      data: {
        datasets: categories.map((c, i) => ({
          label: c,
          data: cfg.series[i].map(([x, y, s]) => ({ x, y, s })),
          backgroundColor: rgba(palette[i], 0.5),
          borderColor: rgba(palette[i], 0.5),
          borderWidth: 1.1,
          pointRadius: (ctx: any) => radiusOf(ctx.raw ? ctx.raw.s : 1.5),
          pointHoverRadius: (ctx: any) => radiusOf(ctx.raw ? ctx.raw.s : 1.5),
        })),
      },
      options: {
        responsive: false,
        animation: false,
        devicePixelRatio: 1,
        events: [],
        layout: { padding: { top: cfg.areaTop, right: W - 1772, bottom: 0, left: 0 } },
        plugins: { legend: { display: false }, tooltip: { enabled: false }, title: { display: false } },
        scales: {
          x: {
            type: "linear",
            min: cfg.xMin,
            max: cfg.xMax,
            afterBuildTicks: (scale: any) => {
              scale.ticks = xTicks.map((v) => ({ value: v }));
            },
            afterFit: (scale: any) => {
              scale.height = H - cfg.areaBottom;
            },
            border: { display: false },
            grid: {
              drawTicks: false,
              color: (ctx: any) => (isCat(ctx.tick.value) ? "#EBEBEB" : "#F1F1F1"),
              lineWidth: (ctx: any) => (isCat(ctx.tick.value) ? 1.6 : 1.1),
            },
            ticks: {
              autoSkip: false,
              minRotation: 45,
              maxRotation: 45,
              padding: 5,
              labelOffset: 7,
              color: "#4D4D4D",
              font: { family: FONT, size: 24 },
              callback: (v: any) => (isCat(Number(v)) ? categories[Number(v) - 1] : ""),
            },
          },
          y: {
            type: "linear",
            min: cfg.yMin,
            max: cfg.yMax,
            afterBuildTicks: (scale: any) => {
              scale.ticks = yTicks.map((v) => ({ value: v }));
            },
            afterFit: (scale: any) => {
              scale.width = 83;
            },
            border: { display: false },
            grid: {
              drawTicks: false,
              color: (ctx: any) => (Number.isInteger(ctx.tick.value) ? "#EBEBEB" : "#F1F1F1"),
              lineWidth: (ctx: any) => (Number.isInteger(ctx.tick.value) ? 2 : 1.1),
            },
            ticks: {
              padding: 8,
              color: "#4D4D4D",
              font: { family: FONT, size: 25 },
              callback: (v: any) => (Number.isInteger(Number(v)) ? String(v) : ""),
            },
          },
        },
      },
      plugins: [decorPlugin(cfg)],
    } as any);
    return () => chart.destroy();
  }, [cfg]);
  return (
    <canvas
      ref={ref}
      width={W}
      height={H}
      style={{ position: "absolute", left: 0, top, width: W, height: H, display: "block" }}
    />
  );
}

export default function App() {
  return (
    <div style={{ position: "absolute", left: 0, top: 0, width: W, height: 2 * H, background: "#fff" }}>
      <Panel cfg={panelA} top={0} />
      <Panel cfg={panelB} top={H} />
    </div>
  );
}
